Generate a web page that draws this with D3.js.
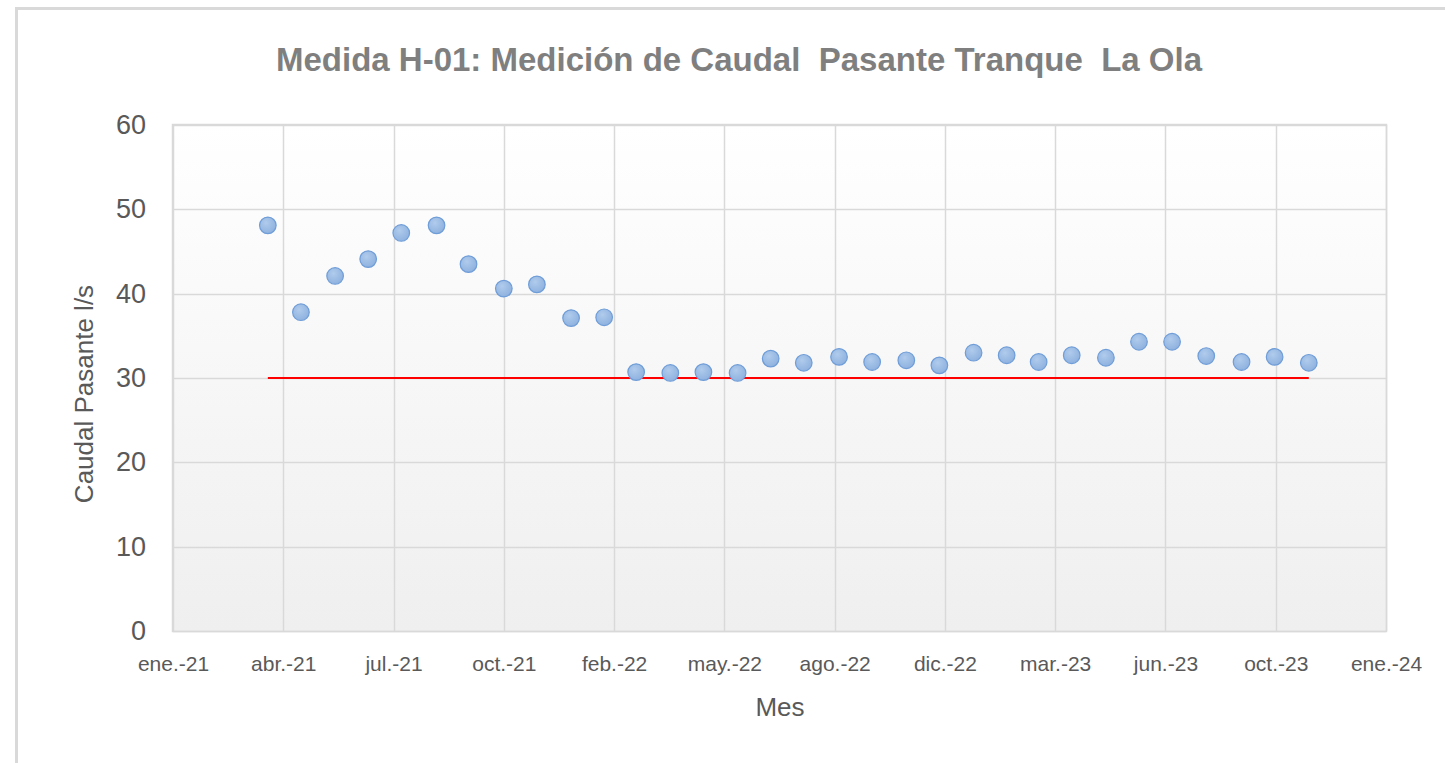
<!DOCTYPE html>
<html>
<head>
<meta charset="utf-8">
<script src="https://cdn.jsdelivr.net/npm/d3@7"></script>
<style>
body { margin: 0; background: #fff; }
text { font-family: "Liberation Sans", Arial, sans-serif; }
</style>
</head>
<body>
<div id="chart"></div>
<script>
// Fechas de medición (fin de mes) y caudal pasante (l/s)
var fechas = ["2021-03-31", "2021-04-30", "2021-05-31", "2021-06-30", "2021-07-30", "2021-08-31",
              "2021-09-29", "2021-10-31", "2021-11-30", "2021-12-31", "2022-01-30", "2022-02-28",
              "2022-03-31", "2022-04-30", "2022-05-31", "2022-06-30", "2022-07-30", "2022-08-31",
              "2022-09-30", "2022-10-31", "2022-11-30", "2022-12-31", "2023-01-30", "2023-02-28",
              "2023-03-30", "2023-04-30", "2023-05-30", "2023-06-29", "2023-07-30", "2023-08-31",
              "2023-09-30", "2023-10-31"];
var caudal = [48.1, 37.8, 42.1, 44.1, 47.2, 48.1, 43.5, 40.6, 41.1, 37.1, 37.2, 30.7,
              30.6, 30.7, 30.6, 32.3, 31.8, 32.5, 31.9, 32.1, 31.5, 33.0, 32.7, 31.9,
              32.7, 32.4, 34.3, 34.3, 32.6, 31.9, 32.5, 31.8];

// Línea de referencia
var limiteFechas = ["2021-03-31", "2023-10-31"];
var limiteValores = [30, 30];

// Eje X: desde 04-ene-2021, una marca cada 100 días
var xInicio = "2021-01-04";
var xPasoDias = 100;
var xTickLabels = ["ene.-21", "abr.-21", "jul.-21", "oct.-21", "feb.-22", "may.-22",
                   "ago.-22", "dic.-22", "mar.-23", "jun.-23", "oct.-23", "ene.-24"];
var yTicks = [0, 10, 20, 30, 40, 50, 60];

var titulo = "Medida H-01: Medición de Caudal  Pasante Tranque  La Ola";
var tituloX = "Mes";
var tituloY = "Caudal Pasante l/s";

var svgWidth = 1445, svgHeight = 763;
var plot = {left: 173, top: 125, right: 1386, bottom: 631};

var parse = d3.utcParse("%Y-%m-%d");
var dia = 24 * 3600 * 1000;
var t0 = parse(xInicio);
var tickDates = xTickLabels.map((d, i) => new Date(t0.getTime() + i * xPasoDias * dia));

var svg = d3.select("#chart").append("svg")
    .attr("width", svgWidth)
    .attr("height", svgHeight);

var defs = svg.append("defs");
var grad = defs.append("linearGradient")
    .attr("id", "fondo").attr("x1", 0).attr("y1", 0).attr("x2", 0).attr("y2", 1);
grad.append("stop").attr("offset", "0%").attr("stop-color", "#ffffff");
grad.append("stop").attr("offset", "100%").attr("stop-color", "#efefef");

var mgrad = defs.append("radialGradient").attr("id", "marca")
    .attr("cx", "40%").attr("cy", "35%").attr("r", "70%");
mgrad.append("stop").attr("offset", "0%").attr("stop-color", "#b0cbec");
mgrad.append("stop").attr("offset", "100%").attr("stop-color", "#8cb0de");

// marco del gráfico
svg.append("rect")
    .attr("x", 16.5).attr("y", 8.5)
    .attr("width", 1460).attr("height", 780)
    .attr("fill", "#fff")
    .attr("stroke", "#d9d9d9")
    .attr("stroke-width", 3);

var xScale = d3.scaleUtc()
    .domain([tickDates[0], tickDates[tickDates.length - 1]])
    .range([plot.left, plot.right]);

var yScale = d3.scaleLinear()
    .domain([0, 60])
    .range([plot.bottom, plot.top]);

// área de trazado
svg.append("rect")
    .attr("x", plot.left).attr("y", plot.top)
    .attr("width", plot.right - plot.left).attr("height", plot.bottom - plot.top)
    .attr("fill", "url(#fondo)");

// rejilla
var grid = svg.append("g");
grid.selectAll("line.h")
    .data(yTicks)
    .enter().append("line")
    .attr("x1", plot.left).attr("x2", plot.right)
    .attr("y1", d => Math.round(yScale(d)) + 0.5)
    .attr("y2", d => Math.round(yScale(d)) + 0.5)
    .attr("stroke", "#d9d9d9").attr("stroke-width", 1.5);

grid.selectAll("line.v")
    .data(tickDates)
    .enter().append("line")
    .attr("x1", d => Math.round(xScale(d)) + 0.5)
    .attr("x2", d => Math.round(xScale(d)) + 0.5)
    .attr("y1", plot.top).attr("y2", plot.bottom)
    .attr("stroke", "#d9d9d9").attr("stroke-width", 1.5);

// ejes (solo etiquetas)
var xAxis = d3.axisBottom(xScale)
    .tickValues(tickDates)
    .tickSize(0)
    .tickPadding(0)
    .tickFormat((d, i) => xTickLabels[i]);

svg.append("g")
    .attr("transform", `translate(0, ${plot.bottom})`)
    .call(xAxis)
    .call(g => g.select(".domain").remove())
    .selectAll("text")
    .attr("y", 40).attr("dy", 0)
    .attr("font-size", 21)
    .attr("fill", "#595959");

var yAxis = d3.axisLeft(yScale)
    .tickValues(yTicks)
    .tickSize(0)
    .tickPadding(27);

svg.append("g")
    .attr("transform", `translate(${plot.left}, 0)`)
    .call(yAxis)
    .call(g => g.select(".domain").remove())
    .selectAll("text")
    .attr("font-size", 27)
    .attr("fill", "#595959");

svg.selectAll(".tick text").attr("font-family", "'Liberation Sans', Arial, sans-serif");

// línea de referencia
var limite = limiteFechas.map((d, i) => ({fecha: parse(d), valor: limiteValores[i]}));
svg.append("path")
    .datum(limite)
    .attr("fill", "none")
    .attr("stroke", "#ff0000")
    .attr("stroke-width", 2)
    .attr("d", d3.line().x(d => xScale(d.fecha)).y(d => yScale(d.valor)));

// puntos
var puntos = fechas.map((d, i) => ({fecha: parse(d), valor: caudal[i]}));
svg.append("g").selectAll("circle")
    .data(puntos)
    .enter().append("circle")
    .attr("cx", d => xScale(d.fecha))
    .attr("cy", d => yScale(d.valor))
    .attr("r", 8.3)
    .attr("fill", "url(#marca)")
    .attr("stroke", "#6f9dd8")
    .attr("stroke-width", 1.2);

// borde del área de trazado
svg.append("rect")
    .attr("x", plot.left - 0.5).attr("y", plot.top - 0.5)
    .attr("width", plot.right - plot.left + 1).attr("height", plot.bottom - plot.top + 1)
    .attr("fill", "none")
    .attr("stroke", "#d9d9d9").attr("stroke-width", 1.5);

// títulos
svg.append("text")
    .attr("x", 739).attr("y", 71)
    .attr("text-anchor", "middle")
    .attr("font-size", 33)
    .attr("font-weight", "bold")
    .attr("fill", "#7f7f7f")
    .style("white-space", "pre")
    .text(titulo);

svg.append("text")
    .attr("x", 780).attr("y", 716)
    .attr("text-anchor", "middle")
    .attr("font-size", 26)
    .attr("fill", "#595959")
    .text(tituloX);

svg.append("text")
    .attr("transform", "translate(93, 394) rotate(-90)")
    .attr("text-anchor", "middle")
    .attr("font-size", 26)
    .attr("fill", "#595959")
    .text(tituloY);
</script>
</body>
</html>
